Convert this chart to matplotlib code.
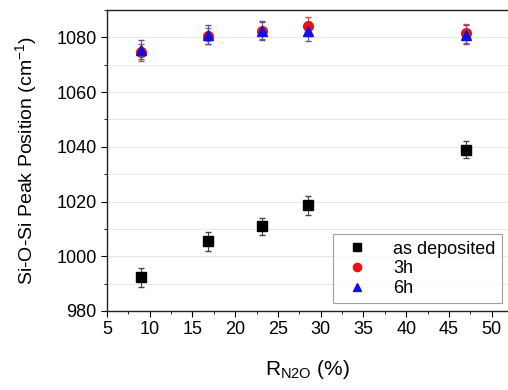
import numpy as np
import matplotlib
matplotlib.use("Agg")
import matplotlib.pyplot as plt
from matplotlib.ticker import MultipleLocator

plt.rcParams["font.family"] = ["Liberation Sans", "DejaVu Sans"]
plt.rcParams["mathtext.fontset"] = "custom"
plt.rcParams["mathtext.rm"] = "Liberation Sans"

# R_N2O (%) values
r_n2o = [9.0, 16.8, 23.1, 28.5, 47.0]

# peak positions (cm^-1) and error bars
as_dep = [992.3, 1005.4, 1010.9, 1018.7, 1039.0]
as_dep_err = [3.5, 3.5, 3.0, 3.5, 3.0]
h3 = [1074.5, 1080.5, 1082.5, 1084.1, 1081.5]
h3_err = [3.0, 3.0, 3.0, 3.5, 3.5]
h6 = [1075.5, 1081.0, 1082.5, 1082.2, 1081.0]
h6_err = [3.5, 3.5, 3.5, 3.5, 3.5]

fig = plt.figure(figsize=(5.08, 3.9), dpi=100)
ax = fig.add_axes([0.2106, 0.2026, 0.7894, 0.7718])

# error bars (no legend entry)
ax.errorbar(r_n2o, as_dep, yerr=as_dep_err, fmt="none", ecolor="#444444",
            elinewidth=0.8, capsize=2.5)
ax.errorbar(r_n2o, h3, yerr=h3_err, fmt="none", ecolor="#dd4444",
            elinewidth=0.8, capsize=2.5)
ax.errorbar(r_n2o, h6, yerr=h6_err, fmt="none", ecolor="#555599",
            elinewidth=0.8, capsize=2.5)

# markers
ax.plot(r_n2o, as_dep, "s", color="black", ms=6.5, label="as deposited")
ax.plot(r_n2o, h3, "o", color="#ee1111", ms=7, label="3h")
ax.plot(r_n2o, h6, "^", color="#1111dd", ms=7, label="6h")

ax.set_xlim(5, 51.9)
ax.set_ylim(980, 1090)
ax.xaxis.set_major_locator(MultipleLocator(5))
ax.xaxis.set_minor_locator(MultipleLocator(2.5))
ax.yaxis.set_major_locator(MultipleLocator(20))
ax.yaxis.set_minor_locator(MultipleLocator(10))
ax.grid(True, which="both", axis="y", color="#e8e8e8", lw=0.8)
ax.set_axisbelow(True)

ax.spines["right"].set_visible(False)
for s in ["left", "bottom", "top"]:
    ax.spines[s].set_linewidth(1.0)
    ax.spines[s].set_color("#222222")
ax.tick_params(which="major", direction="out", length=4, labelsize=13)
ax.tick_params(which="minor", direction="out", length=2.5)

ax.set_xlabel(r"R$_{\mathregular{N2O}}$ (%)", fontsize=15, labelpad=14)
ax.set_ylabel(r"Si-O-Si Peak Position (cm$^{\mathregular{-1}}$)", fontsize=14,
              labelpad=12)

leg = ax.legend(loc="lower right", bbox_to_anchor=(0.985, 0.025), fontsize=13,
                frameon=True, fancybox=False, edgecolor="#888888",
                handletextpad=1.0, labelspacing=0.15, borderpad=0.35,
                handlelength=2.0, borderaxespad=0.0, markerscale=0.85)
leg.get_frame().set_linewidth(0.8)

fig.savefig("out.png", dpi=100)
